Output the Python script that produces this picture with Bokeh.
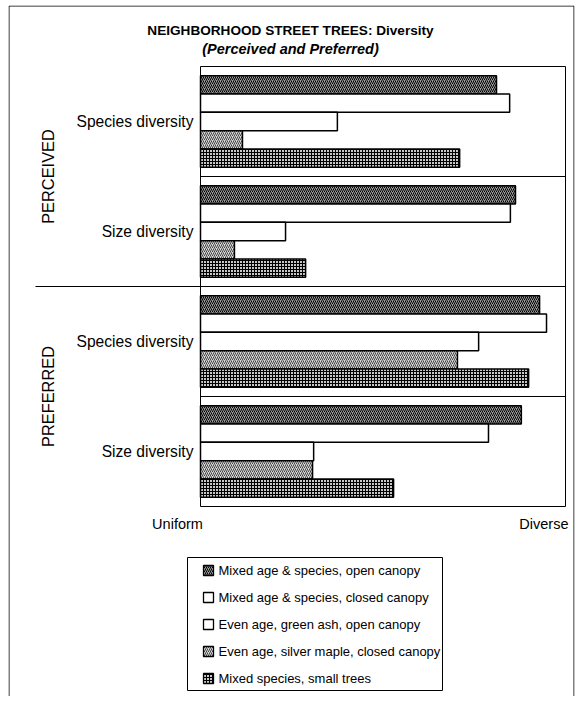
from bokeh.plotting import figure
from bokeh.models import Range1d, ColumnDataSource
from bokeh.core.properties import value
from bokeh.embed import file_html
from bokeh.resources import INLINE
import math

# ---------------- data ----------------
title_line1 = "NEIGHBORHOOD STREET TREES: Diversity"
title_line2 = "(Perceived and Preferred)"
sections = ["PERCEIVED", "PREFERRED"]
groups = ["Species diversity", "Size diversity", "Species diversity", "Size diversity"]
series = ["Mixed age & species, open canopy",
          "Mixed age & species, closed canopy",
          "Even age, green ash, open canopy",
          "Even age, silver maple, closed canopy",
          "Mixed species, small trees"]
# values on a 0 (Uniform) .. 100 (Diverse) scale, one per group
mixed_open = [81.1, 86.3, 92.9, 87.9]
mixed_closed = [84.7, 84.9, 94.8, 78.9]
green_ash = [37.5, 23.3, 76.2, 31.0]
silver_maple = [11.5, 9.3, 70.4, 30.7]
small_trees = [71.0, 28.8, 89.9, 52.9]
scale_labels = ["Uniform", "Diverse"]

values = [mixed_open, mixed_closed, green_ash, silver_maple, small_trees]

# ---------------- layout (pixels) ----------------
W, H = 575, 696
FX0, FY0 = 8, 5            # frame top-left
FX1, FY1 = 574, 696        # frame bottom-right
PX0, PX1 = 200, 565        # px of value 0 / 100
PY_TOP, PY_BOT = 66, 506   # px of inner box top / bottom
NG = len(groups)
NS = len(series)
SLOTS = NS + 1
YTOP = NG * SLOTS

xs = (PX1 - PX0) / 100.0
ys = (PY_BOT - PY_TOP) / YTOP


def px2x(px):
    return (px - PX0) / xs


def px2y(py):
    return (PY_BOT - py) / ys


p = figure(width=W, height=H, output_backend="svg", toolbar_location=None,
           x_range=Range1d(px2x(FX0), px2x(FX1)),
           y_range=Range1d(px2y(FY1), px2y(FY0)),
           min_border_left=FX0, min_border_right=W - FX1, min_border_top=FY0,
           min_border_bottom=H - FY1)
p.axis.visible = False
p.grid.visible = False
p.outline_line_color = None
p.background_fill_color = "white"
p.border_fill_color = "white"

# outer frame (left, top, right)
ox0, ox1 = px2x(FX0 + 0.5), px2x(FX1 - 0.5)
oy0, oy1 = px2y(FY1), px2y(FY0 + 0.5)
p.segment(x0=[ox0, ox0, ox1], y0=[oy0, oy1, oy1], x1=[ox0, ox1, ox1], y1=[oy1, oy1, oy0],
          line_color="black", line_width=1)

styles = [
    dict(fill_color="#9a9a9a", hatch_pattern="/", hatch_color="black", hatch_scale=4, hatch_weight=1),
    dict(fill_color="white"),
    dict(fill_color="white"),
    dict(fill_color="#d8d8d8", hatch_pattern="/", hatch_color="#444444", hatch_scale=4, hatch_weight=1),
    dict(fill_color="#c8c8c8", hatch_pattern="+", hatch_color="black", hatch_scale=3, hatch_weight=1),
]

for s, (name, vals, st) in enumerate(zip(series, values, styles)):
    ypos = [YTOP - SLOTS * g - 1 - s for g in range(NG)]
    src = ColumnDataSource(dict(y=ypos, right=vals))
    p.hbar(y="y", left=0, right="right", height=1, source=src,
           line_color="black", line_width=1.5, **st)

# inner box and dividers
p.segment(x0=[0, 0, 0, 100], y0=[0, YTOP, 0, 0], x1=[100, 100, 0, 100], y1=[0, YTOP, YTOP, YTOP],
          line_color="black", line_width=1)
div_y = [YTOP - SLOTS * (g + 1) for g in range(NG - 1)]
div_x0 = [0 if (g + 1) % 2 else px2x(35) for g in range(NG - 1)]
p.segment(x0=div_x0, y0=div_y, x1=[100] * len(div_y), y1=div_y, line_color="black", line_width=1)

FONT = value("Liberation Sans")

# title
p.text(x=[px2x(290)], y=[px2y(30)], text=[title_line1], text_font=FONT, text_font_size="13.6px",
       text_font_style="bold", text_align="center", text_baseline="middle")
p.text(x=[px2x(290)], y=[px2y(48)], text=[title_line2], text_font=FONT, text_font_size="14.5px",
       text_font_style="bold italic", text_align="center", text_baseline="middle")

# group labels
p.text(x=[px2x(193)] * NG, y=[YTOP - SLOTS * g - SLOTS / 2 for g in range(NG)], text=groups,
       text_font=FONT, text_font_size="15.6px", text_align="right", text_baseline="middle")

# section labels
p.text(x=[px2x(47)] * len(sections), y=[YTOP - 2 * SLOTS * k - SLOTS for k in range(len(sections))],
       text=sections, angle=math.pi / 2, text_font=FONT, text_font_size="16.4px",
       text_align="center", text_baseline="middle")

# scale labels
p.text(x=[px2x(177)], y=[px2y(523)], text=[scale_labels[0]], text_font=FONT, text_font_size="14.5px",
       text_align="center", text_baseline="middle")
p.text(x=[px2x(568)], y=[px2y(523)], text=[scale_labels[1]], text_font=FONT, text_font_size="14.5px",
       text_align="right", text_baseline="middle")

# legend (drawn manually)
LBX0, LBX1, LBY0, LBY1 = 187, 442, 557, 690
p.quad(left=[px2x(LBX0)], right=[px2x(LBX1)], top=[px2y(LBY0)], bottom=[px2y(LBY1)],
       fill_color="white", line_color="black", line_width=1)
row_y = [570 + 27 * k for k in range(NS)]
for k, (name, st) in enumerate(zip(series, styles)):
    cy = px2y(row_y[k])
    p.quad(left=[px2x(203)], right=[px2x(213)], top=[cy + 5 / ys], bottom=[cy - 5 / ys],
           line_color="black", line_width=1.3, **st)
p.text(x=[px2x(218)] * NS, y=[px2y(v) for v in row_y], text=series, text_font=FONT,
       text_font_size="13px", text_align="left", text_baseline="middle")

open("out.html", "w").write(file_html(p, INLINE))
